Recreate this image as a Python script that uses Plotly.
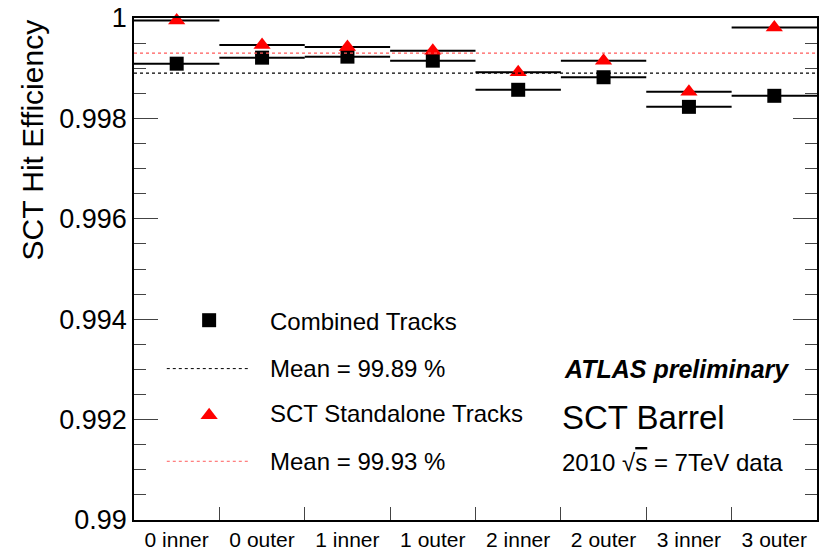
import plotly.graph_objects as go

# SCT barrel layers (inner/outer sides)
layers = ["0 inner", "0 outer", "1 inner", "1 outer",
          "2 inner", "2 outer", "3 inner", "3 outer"]

# Hit efficiency per layer side
combined_eff = [0.99909, 0.99921, 0.99923, 0.99915,
                0.99857, 0.99882, 0.99823, 0.99845]
standalone_eff = [0.99995, 0.99946, 0.99942, 0.99935,
                  0.99892, 0.99915, 0.99853, 0.99981]

# Averages over all layers
combined_mean = 0.9989
standalone_mean = 0.9993

y_ticks = [0.99, 0.992, 0.994, 0.996, 0.998, 1.0]
y_tick_text = ["0.99", "0.992", "0.994", "0.996", "0.998", "1"]

FONT = "Liberation Sans, Arial, sans-serif"
RED = "#ff0000"
MEAN_RED = "#ff5a5a"

xpos = list(range(len(layers)))

fig = go.Figure()

fig.add_trace(go.Scatter(
    x=xpos, y=combined_eff, mode="markers",
    marker=dict(symbol="square", size=14, color="black"),
    error_x=dict(type="constant", value=0.5, thickness=2, width=0, color="black"),
    cliponaxis=False, showlegend=False,
))
fig.add_trace(go.Scatter(
    x=xpos, y=standalone_eff, mode="markers",
    marker=dict(symbol="triangle-up", size=15, color=RED),
    error_x=dict(type="constant", value=0.5, thickness=2, width=0, color="black"),
    cliponaxis=False, showlegend=False,
))

# mean lines across the full width
fig.add_shape(type="line", xref="paper", x0=0, x1=1, yref="y",
              y0=combined_mean, y1=combined_mean,
              line=dict(color="black", width=1.3, dash="dot"))
fig.add_shape(type="line", xref="paper", x0=0, x1=1, yref="y",
              y0=standalone_mean, y1=standalone_mean,
              line=dict(color=MEAN_RED, width=1.3, dash="dot"))

# hand-built legend
leg_marker_x = 0.110
leg_rows = [0.398, 0.3016, 0.2085, 0.117]
fig.add_trace(go.Scatter(
    x=[leg_marker_x], y=[leg_rows[0]], xaxis="x2", yaxis="y2", mode="markers",
    marker=dict(symbol="square", size=14, color="black"),
    showlegend=False, hoverinfo="skip"))
fig.add_trace(go.Scatter(
    x=[leg_marker_x], y=[leg_rows[2]], xaxis="x2", yaxis="y2", mode="markers",
    marker=dict(symbol="triangle-up", size=15, color=RED),
    showlegend=False, hoverinfo="skip"))
fig.add_shape(type="line", xref="paper", yref="paper", x0=0.048, x1=0.169,
              y0=leg_rows[1], y1=leg_rows[1],
              line=dict(color="black", width=1, dash="dot"))
fig.add_shape(type="line", xref="paper", yref="paper", x0=0.048, x1=0.169,
              y0=leg_rows[3], y1=leg_rows[3],
              line=dict(color=MEAN_RED, width=1, dash="dot"))

leg_labels = ["Combined Tracks",
              f"Mean = {combined_mean * 100:.2f} %",
              "SCT Standalone Tracks",
              f"Mean = {standalone_mean * 100:.2f} %"]
leg_text_y = [0.3948, 0.3016, 0.2123, 0.117]
for txt, yy in zip(leg_labels, leg_text_y):
    fig.add_annotation(x=0.1956, y=yy, xref="paper", yref="paper",
                       text=txt, showarrow=False, xanchor="left", yanchor="middle",
                       font=dict(family=FONT, size=24, color="black"))

# labels on the right
fig.add_annotation(x=0.626, y=0.3016, xref="paper", yref="paper",
                   text="<b><i>ATLAS preliminary</i></b>", showarrow=False,
                   xanchor="left", yanchor="middle",
                   font=dict(family=FONT, size=25, color="black"))
fig.add_annotation(x=0.624, y=0.2044, xref="paper", yref="paper",
                   text="SCT Barrel", showarrow=False,
                   xanchor="left", yanchor="middle",
                   font=dict(family=FONT, size=33, color="black"))
fig.add_annotation(x=0.624, y=0.1151, xref="paper", yref="paper",
                   text="2010 √<span style='text-decoration:overline'>s</span> = 7TeV data",
                   showarrow=False, xanchor="left", yanchor="middle",
                   font=dict(family=FONT, size=24, color="black"))

# y axis title
fig.add_annotation(x=0, y=1, xref="paper", yref="paper", xshift=-102, yshift=0,
                   text="SCT Hit Efficiency", textangle=-90, showarrow=False,
                   xanchor="center", yanchor="top",
                   font=dict(family=FONT, size=30, color="black"))

fig.update_layout(
    width=822, height=554,
    margin=dict(l=134, r=3, t=17, b=33),
    paper_bgcolor="white", plot_bgcolor="white",
    showlegend=False,
    xaxis=dict(
        range=[-0.5, len(layers) - 0.5],
        tickmode="array", tickvals=xpos, ticktext=layers,
        ticks="", showgrid=False, zeroline=False,
        showline=True, linecolor="black", linewidth=1.5, mirror=True,
        tickfont=dict(family=FONT, size=21, color="black"),
        minor=dict(tickmode="array", tickvals=[i + 0.5 for i in xpos[:-1]],
                   ticks="inside", ticklen=13, tickcolor="#444", tickwidth=1.3,
                   showgrid=False),
    ),
    yaxis=dict(
        range=[0.99, 1.0],
        tickmode="array", tickvals=y_ticks, ticktext=y_tick_text,
        ticks="inside", ticklen=24, tickcolor="#444", tickwidth=1.3,
        showgrid=False, zeroline=False,
        showline=True, linecolor="black", linewidth=1.5, mirror="allticks",
        tickfont=dict(family=FONT, size=27, color="black"),
        minor=dict(dtick=0.0005, tick0=0.99, ticks="inside", ticklen=12,
                   tickcolor="#444", tickwidth=1.3, showgrid=False),
    ),
    xaxis2=dict(range=[0, 1], overlaying="x", visible=False, fixedrange=True),
    yaxis2=dict(range=[0, 1], overlaying="y", visible=False, fixedrange=True),
)

fig.write_html("out.html")
